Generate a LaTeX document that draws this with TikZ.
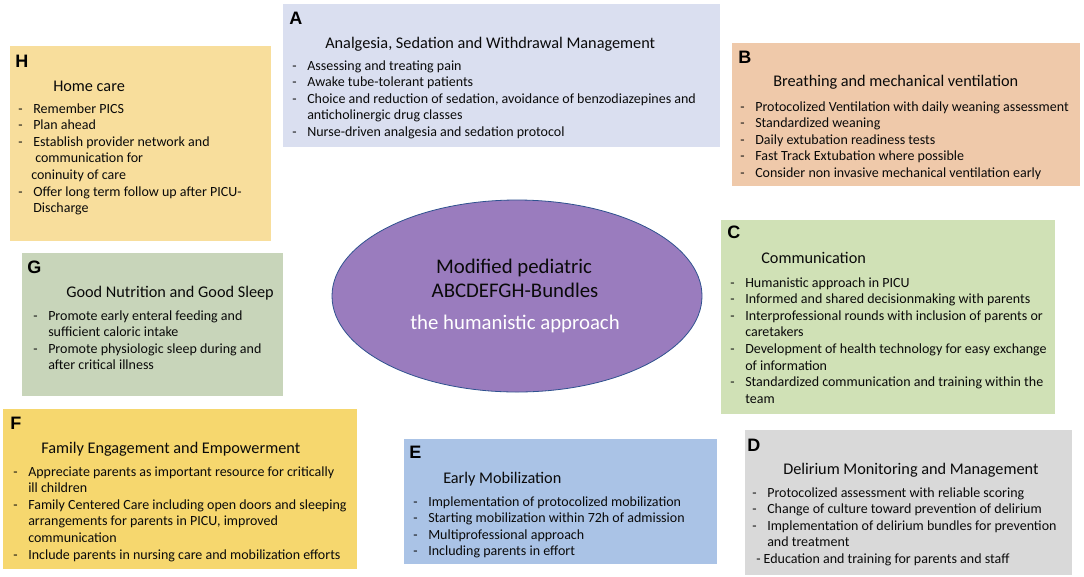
\documentclass[tikz,border=0pt]{standalone}
\usepackage{fontspec}
\setmainfont{Carlito}
\newfontfamily\letterfont{Liberation Sans}
\usetikzlibrary{shapes.geometric,fit}
\definecolor{cH}{HTML}{F8DE9C}
\definecolor{cA}{HTML}{DADFF0}
\definecolor{cB}{HTML}{EFC9AA}
\definecolor{cC}{HTML}{D0E1B6}
\definecolor{cG}{HTML}{C8D5BA}
\definecolor{cF}{HTML}{F6D76E}
\definecolor{cE}{HTML}{AAC3E6}
\definecolor{cD}{HTML}{D9D9D9}
\definecolor{cM}{HTML}{9A7CBE}
\definecolor{cMb}{HTML}{2F528F}
\definecolor{txt}{HTML}{0A0A0A}
\newcommand\itm[1]{\makebox[11.25pt][l]{-}#1}
\newcommand\cnt[1]{\hspace*{11.25pt}#1}
\begin{document}
\begin{tikzpicture}[x=0.75pt,y=-0.75pt,
  panel/.style={draw=none, inner sep=0pt, outer sep=0pt},
  letter/.style={inner sep=0pt, anchor=base west, font=\letterfont\bfseries\fontsize{13.5}{15}\selectfont, text=black},
  title/.style={inner sep=0pt, anchor=base west, font=\fontsize{12.2}{14}\selectfont, text=txt},
  list/.style={inner sep=0pt, anchor=base west, font=\fontsize{10.5}{12.45}\selectfont, text=txt},
  center/.style={inner sep=0pt, anchor=base, font=\fontsize{15.6}{18}\selectfont}]
\useasboundingbox (0,0) rectangle (1084,576);
\fill[white] (0,0) rectangle (1084,576);

% H
\node[panel, fill=cH, fit={(10,46) (271,241)}] (H) {};
\node[letter] (Hl) at (15,67) {H};
\node[title] (Ht) at (53,91) {Home care};
\node[list] (Hb) at (18,113) {\begin{tabular}[t]{@{}l@{}}
\itm{Remember PICS}\\
\itm{Plan ahead}\\
\itm{Establish provider network and}\\
\hspace*{12.75pt}communication for\\
\hspace*{9.75pt}coninuity of care\\
\itm{Offer long term follow up after PICU-}\\
\cnt{Discharge}
\end{tabular}};

% A
\node[panel, fill=cA, fit={(283,4) (720,147)}] (A) {};
\node[letter] (Al) at (289,24) {A};
\node[title] (At) at (325,48) {Analgesia, Sedation and Withdrawal Management};
\node[list] (Ab) at (292,70) {\begin{tabular}[t]{@{}l@{}}
\itm{Assessing and treating pain}\\
\itm{Awake tube-tolerant patients}\\
\itm{Choice and reduction of sedation, avoidance of benzodiazepines and}\\
\cnt{anticholinergic drug classes}\\
\itm{Nurse-driven analgesia and sedation protocol}
\end{tabular}};

% B
\node[panel, fill=cB, fit={(732,43) (1080,186)}] (B) {};
\node[letter] (Bl) at (738,63) {B};
\node[title] (Bt) at (773,86) {Breathing and mechanical ventilation};
\node[list] (Bb) at (740,111) {\begin{tabular}[t]{@{}l@{}}
\itm{Protocolized Ventilation with daily weaning assessment}\\
\itm{Standardized weaning}\\
\itm{Daily extubation readiness tests}\\
\itm{Fast Track Extubation where possible}\\
\itm{Consider non invasive mechanical ventilation early}
\end{tabular}};

% C
\node[panel, fill=cC, fit={(721,220) (1055,414)}] (C) {};
\node[letter] (Cl) at (727,238) {C};
\node[title] (Ct) at (761,263) {Communication};
\node[list] (Cb) at (730,287) {\begin{tabular}[t]{@{}l@{}}
\itm{Humanistic approach in PICU}\\
\itm{Informed and shared decisionmaking with parents}\\
\itm{Interprofessional rounds with inclusion of parents or}\\
\cnt{caretakers}\\
\itm{Development of health technology for easy exchange}\\
\cnt{of information}\\
\itm{Standardized communication and training within the}\\
\cnt{team}
\end{tabular}};

% G
\node[panel, fill=cG, fit={(22,253) (283,396)}] (G) {};
\node[letter] (Gl) at (27,273) {G};
\node[title] (Gt) at (66,297) {Good Nutrition and Good Sleep};
\node[list] (Gb) at (33,320) {\begin{tabular}[t]{@{}l@{}}
\itm{Promote early enteral feeding and}\\
\cnt{sufficient caloric intake}\\
\itm{Promote physiologic sleep during and}\\
\cnt{after critical illness}
\end{tabular}};

% F
\node[panel, fill=cF, fit={(3,409) (357,569)}] (F) {};
\node[letter] (Fl) at (10,429) {F};
\node[title] (Ft) at (41,453) {Family Engagement and Empowerment};
\node[list] (Fb) at (13,476) {\begin{tabular}[t]{@{}l@{}}
\itm{Appreciate parents as important resource for critically}\\
\cnt{ill children}\\
\itm{Family Centered Care including open doors and sleeping}\\
\cnt{arrangements for parents in PICU, improved}\\
\cnt{communication}\\
\itm{Include parents in nursing care and mobilization efforts}
\end{tabular}};

% E
\node[panel, fill=cE, fit={(404,439) (717,564)}] (E) {};
\node[letter] (El) at (409,458) {E};
\node[title] (Et) at (443,483) {Early Mobilization};
\node[list] (Eb) at (413,506) {\begin{tabular}[t]{@{}l@{}}
\itm{Implementation of protocolized mobilization}\\
\itm{Starting mobilization within 72h of admission}\\
\itm{Multiprofessional approach}\\
\itm{Including parents in effort}
\end{tabular}};

% D
\node[panel, fill=cD, fit={(745,430) (1072,575)}] (D) {};
\node[letter] (Dl) at (747,451) {D};
\node[title] (Dt) at (783,474) {Delirium Monitoring and Management};
\node[list] (Db) at (752,497) {\begin{tabular}[t]{@{}l@{}}
\itm{Protocolized assessment with reliable scoring}\\
\itm{Change of culture toward prevention of delirium}\\
\itm{Implementation of delirium bundles for prevention}\\
\cnt{and treatment}\\
\hspace*{3pt}- Education and training for parents and staff
\end{tabular}};

% center
\node[ellipse, draw=cMb, line width=0.6pt, fill=cM, minimum width=277.5pt, minimum height=144pt, inner sep=0pt] (M) at (517,296) {};
\node[center, text=txt] (M1) at (514,273) {Modified pediatric};
\node[center, text=txt] (M2) at (515,297) {ABCDEFGH-Bundles};
\node[center, text=white] (M3) at (515,329) {the humanistic approach};
\end{tikzpicture}
\end{document}
